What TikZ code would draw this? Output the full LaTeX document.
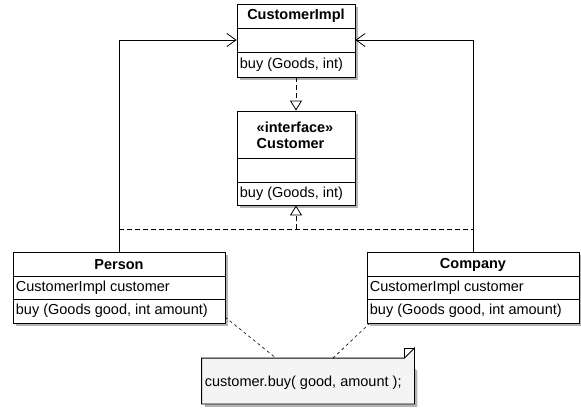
\documentclass[tikz,border=0pt]{standalone}
\usepackage{fontspec}
\setmainfont{Liberation Sans}
\usetikzlibrary{arrows.meta,shadows}
\definecolor{shadowgray}{HTML}{B4B4B4}
\definecolor{notefill}{HTML}{F4F4F4}
\begin{document}
\begin{tikzpicture}[x=1pt,y=-1pt,line width=0.8pt,
  font=\fontsize{14.5}{16}\selectfont,
  classbox/.style={draw=black,fill=white,inner sep=0pt,
    drop shadow={shadow xshift=3pt,shadow yshift=-3pt,fill=shadowgray,opacity=1}},
  title/.style={font=\fontsize{14.5}{16}\selectfont\bfseries,inner sep=0pt},
  member/.style={anchor=west,inner sep=0pt},
  assoc/.style={-{Straight Barb[length=9pt,width=13pt,line width=0.8pt]}},
  realize/.style={dash pattern=on 5pt off 3pt,
    -{Triangle[open,length=10pt,width=12pt,line width=0.8pt,fill=white]}},
  notelink/.style={line width=0.6pt,dash pattern=on 3pt off 3pt}]
\useasboundingbox (0,0) rectangle (581,408);

% --- CustomerImpl class
\node[classbox,minimum width=118pt,minimum height=73pt] (impl) at (296,40.5) {};
\draw (impl.west |- 0,28) -- (impl.east |- 0,28);
\draw (impl.west |- 0,52) -- (impl.east |- 0,52);
\node[title] (implname) at (296,16) {CustomerImpl};
\node[member] (implop) at (239.5,64.5) {buy (Goods, int)};

% --- Customer interface
\node[classbox,minimum width=118pt,minimum height=94pt] (cust) at (296,158) {};
\draw (cust.west |- 0,158) -- (cust.east |- 0,158);
\draw (cust.west |- 0,182) -- (cust.east |- 0,182);
\node[title,align=left] (custname) at (295,135) {«interface»\\Customer};
\node[member] (custop) at (239.5,194) {buy (Goods, int)};

% --- Person class
\node[classbox,minimum width=212pt,minimum height=71pt] (person) at (119,287.5) {};
\draw (person.west |- 0,276) -- (person.east |- 0,276);
\draw (person.west |- 0,299) -- (person.east |- 0,299);
\node[title] (personname) at (119,264.5) {Person};
\node[member] (personattr) at (15.5,288) {CustomerImpl customer};
\node[member] (personop) at (15.5,311) {buy (Goods good, int amount)};

% --- Company class
\node[classbox,minimum width=212pt,minimum height=71pt] (company) at (473,287.5) {};
\draw (company.west |- 0,276) -- (company.east |- 0,276);
\draw (company.west |- 0,299) -- (company.east |- 0,299);
\node[title] (companyname) at (473,264.5) {Company};
\node[member] (companyattr) at (369.5,288) {CustomerImpl customer};
\node[member] (companyop) at (369.5,311) {buy (Goods good, int amount)};

% --- note
\node[inner sep=0pt,minimum width=212pt,minimum height=45pt] (note) at (308,381) {};
\fill[shadowgray] ([shift={(3,3)}]note.north west) -- ([shift={(-7,3)}]note.north east)
  -- ([shift={(3,13)}]note.north east) -- ([shift={(3,3)}]note.south east)
  -- ([shift={(3,3)}]note.south west) -- cycle;
\draw[fill=notefill] (note.north west) -- ([xshift=-10]note.north east)
  -- ([yshift=10]note.north east) -- (note.south east) -- (note.south west) -- cycle;
\draw[line width=0.6pt] ([xshift=-10]note.north east) |- ([yshift=10]note.north east);
\node[member] (notetext) at (204.5,383) {customer.buy( good, amount );};

% --- associations to CustomerImpl
\coordinate (implin) at (impl.west |- 0,40);
\coordinate (implin2) at (impl.east |- 0,40);
\draw[assoc] (person.north) |- (implin);
\draw[assoc] (company.north) |- (implin2);

% --- realizations of Customer
\draw[realize] (impl.south) -- (cust.north);
\coordinate (join) at (cust.south |- 0,229);
\draw[dash pattern=on 5pt off 3pt] (person.north |- join) -- (company.north |- join);
\draw[realize] (join) -- (cust.south);

% --- note links
\coordinate (personlink) at (225,317);
\coordinate (companylink) at (370,323);
\draw[notelink] (personlink) -- (note.north -| 276,0);
\draw[notelink] (companylink) -- (note.north -| 333,0);
\end{tikzpicture}
\end{document}
